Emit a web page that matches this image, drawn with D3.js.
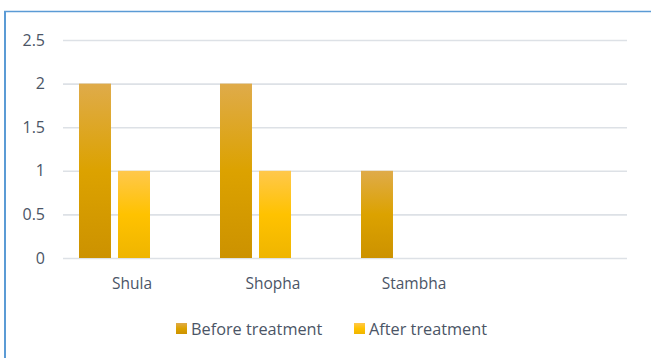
<!DOCTYPE html>
<html lang="en">
  <head>
    <meta charset="UTF-8" />
    <title>treatment bars</title>
    <script src="https://cdn.jsdelivr.net/npm/d3@7/dist/d3.min.js"></script>
    <style>
      body { margin: 0; background: #fff; }
      text { font-family: "Open Sans", "Noto Sans", sans-serif; fill: #4b5566; }
    </style>
  </head>
  <body>
    <div id="wrapper"></div>
    <script>
      const categories = ["Shula", "Shopha", "Stambha", ""];
      const seriesNames = ["Before treatment", "After treatment"];
      const before = [2, 2, 1, null];
      const after = [1, 1, null, null];
      const yTicks = [0, 0.5, 1, 1.5, 2, 2.5];
      // Excel reserved a third (empty) slot in each cluster
      const slots = [0, 1, 2];

      const dimensions = {
        width: 651,
        height: 358,
        margin: { left: 63, right: 24, top: 40, bottom: 100 },
      };
      dimensions.boundedWidth =
        dimensions.width - dimensions.margin.left - dimensions.margin.right;
      dimensions.boundedHeight =
        dimensions.height - dimensions.margin.top - dimensions.margin.bottom;

      const svg = d3
        .select("#wrapper")
        .append("svg")
        .attr("width", dimensions.width)
        .attr("height", dimensions.height);

      const defs = svg.append("defs");
      const gradients = [
        { id: "g0", stops: ["#dfab4a", "#dca200", "#cc9200"] },
        { id: "g1", stops: ["#ffc84c", "#ffc200", "#efb500"] },
      ];
      gradients.forEach((g) => {
        const lg = defs
          .append("linearGradient")
          .attr("id", g.id)
          .attr("x1", 0).attr("y1", 0).attr("x2", 0).attr("y2", 1);
        g.stops.forEach((c, i) =>
          lg.append("stop").attr("offset", `${i * 50}%`).attr("stop-color", c)
        );
      });

      // frame (left and top edges visible)
      svg.append("line")
        .attr("x1", 5).attr("x2", 5).attr("y1", 11).attr("y2", dimensions.height)
        .attr("stroke", "#5b9bd5").attr("stroke-width", 2);
      svg.append("line")
        .attr("x1", 4).attr("x2", dimensions.width).attr("y1", 11.5).attr("y2", 11.5)
        .attr("stroke", "#5b9bd5").attr("stroke-width", 1.5);

      const bounds = svg
        .append("g")
        .attr("transform", `translate(${dimensions.margin.left},${dimensions.margin.top})`);

      const yScale = d3
        .scaleLinear()
        .domain([0, 2.5])
        .range([dimensions.boundedHeight, 0]);
      const xScale = d3
        .scaleBand()
        .domain(categories.map((d, i) => i))
        .range([0, dimensions.boundedWidth]);
      const x1 = d3
        .scaleBand()
        .domain(slots)
        .range([16, xScale.bandwidth() - 15])
        .paddingInner(0.18);

      const yAxis = bounds
        .append("g")
        .call(d3.axisLeft(yScale).tickValues(yTicks).tickSize(-dimensions.boundedWidth).tickFormat(d3.format("")));
      yAxis.select(".domain").remove();
      yAxis.selectAll(".tick line").attr("stroke", "#dde1e6").attr("stroke-width", 1.6);
      yAxis.selectAll(".tick text").style("font-size", "16px").attr("x", -18).attr("fill", "#4b5566");

      const series = [before, after];
      series.forEach((vals, s) => {
        bounds
          .append("g")
          .selectAll("rect")
          .data(vals.map((v, i) => ({ v, i })).filter((d) => d.v != null && d.v > 0))
          .join("rect")
          .attr("x", (d) => xScale(d.i) + x1(s))
          .attr("width", x1.bandwidth())
          .attr("y", (d) => yScale(d.v))
          .attr("height", (d) => yScale(0) - yScale(d.v))
          .attr("fill", `url(#g${s})`);
      });

      const xAxis = bounds
        .append("g")
        .attr("transform", `translate(0,${dimensions.boundedHeight})`)
        .call(d3.axisBottom(xScale).tickSize(0).tickPadding(20).tickFormat((i) => categories[i]));
      xAxis.select(".domain").remove();
      xAxis.selectAll(".tick text").style("font-size", "15.5px").attr("dx", -1.5).attr("fill", "#4b5566");

      const legend = svg.append("g").attr("transform", "translate(176,323)");
      const legendX = [0, 178];
      seriesNames.forEach((name, s) => {
        const item = legend.append("g").attr("transform", `translate(${legendX[s]},0)`);
        item.append("rect").attr("width", 11).attr("height", 11).attr("fill", `url(#g${s})`);
        item.append("text").attr("x", 15).attr("y", 12).style("font-size", "16.3px").text(name);
      });
    </script>
  </body>
</html>
